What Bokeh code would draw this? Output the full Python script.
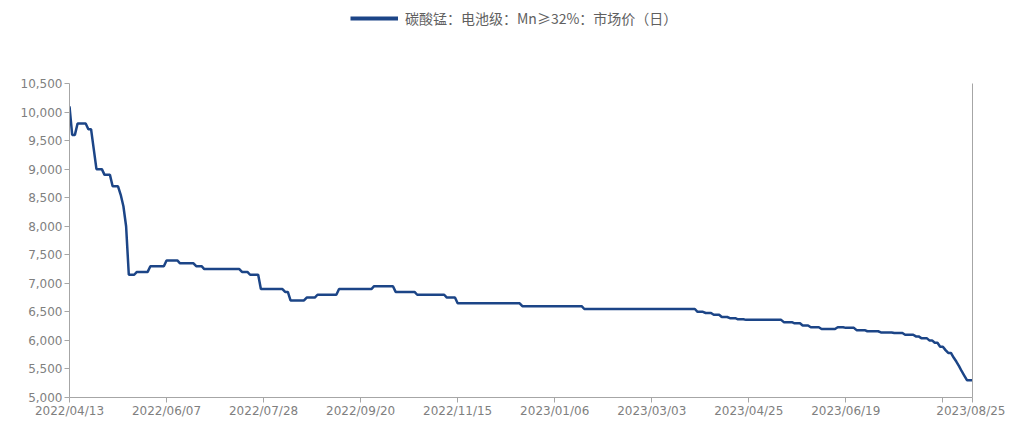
import numpy as np
from bokeh.plotting import figure
from bokeh.layouts import column
from bokeh.models import (Range1d, FixedTicker, NumeralTickFormatter, LinearAxis,
                          Legend, LegendItem, ColumnDataSource)
from bokeh.embed import file_html
from bokeh.resources import INLINE

series_name = "碳酸锰：电池级：Mn≥32%：市场价（日）"

# price level (yuan/t) and number of trading days it held
levels = [10100, 9600, 9800, 9700, 9350, 9000, 8900, 8700, 8550, 8350, 8000,
          7150, 7200, 7300, 7400, 7350, 7300, 7250, 7200, 7150,
          6900, 6850, 6700, 6750, 6800, 6900, 6950, 6850, 6800, 6750,
          6650, 6600, 6550, 6500, 6480, 6450, 6410, 6390, 6370, 6360,
          6320, 6300, 6260, 6230, 6200, 6230, 6220, 6180, 6160, 6140,
          6130, 6100, 6070, 6040, 6000, 5960, 5890, 5830, 5780, 5700,
          5630, 5550, 5460, 5380, 5300]
days = [1, 2, 4, 2, 1, 3, 3, 3, 1, 1, 1,
        3, 5, 6, 5, 6, 3, 14, 3, 4,
        9, 2, 6, 4, 8, 13, 8, 8, 11, 4,
        24, 23, 42, 3, 3, 3, 3, 3, 3, 14,
        4, 3, 3, 4, 6, 3, 4, 4, 5, 5,
        4, 4, 2, 3, 2, 2, 2, 1, 2, 1,
        1, 1, 1, 1, 3]

# trading-day index of each date tick and its label
tick_index = [0, 36, 72, 108, 144, 180, 216, 252, 288, 324, 335]
tick_labels = ["2022/04/13", "2022/06/07", "2022/07/28", "2022/09/20", "2022/11/15",
               "2023/01/06", "2023/03/03", "2023/04/25", "2023/06/19", "", "2023/08/25"]
y_ticks = [5000, 5500, 6000, 6500, 7000, 7500, 8000, 8500, 9000, 9500, 10000, 10500]

values = np.repeat(levels, days)
idx = np.arange(len(values))
src = ColumnDataSource(dict(x=idx, y=values))

LINE = "#1c4587"
AXIS = "#a6a6a6"
LABEL = "#7f7f7f"
W = 1005
H = 420
HEAD_H = 56

# header figure carrying only the legend (its renderer holds no drawable point)
head = figure(width=W, height=HEAD_H, output_backend="svg", toolbar_location=None,
              x_range=Range1d(0, 1), y_range=Range1d(0, 1),
              min_border=0, outline_line_color=None)
head.axis.visible = False
head.grid.visible = False
dummy = head.line(x=[np.nan, np.nan], y=[np.nan, np.nan], line_color=LINE, line_width=4)
legend = Legend(items=[LegendItem(label=series_name, renderers=[dummy])],
                location=(281, 28), orientation="horizontal",
                border_line_alpha=0, background_fill_alpha=0,
                glyph_width=48, glyph_height=14, label_height=14, label_standoff=7,
                label_text_font="Noto Sans CJK SC", label_text_font_size="14px",
                label_text_color="#606060", padding=0, margin=0, spacing=0)
head.add_layout(legend, "center")

p = figure(width=W, height=H - HEAD_H, output_backend="svg", toolbar_location=None,
           x_range=Range1d(0, len(values) - 1), y_range=Range1d(5000, 10500),
           min_border_left=69, min_border_right=W - 972,
           min_border_top=83 - HEAD_H, min_border_bottom=H - 398)
p.outline_line_color = None
p.xgrid.grid_line_color = None
p.ygrid.grid_line_color = None

p.line("x", "y", source=src, line_color=LINE, line_width=2.5)

for ax in (p.xaxis[0], p.yaxis[0]):
    ax.axis_line_color = AXIS
    ax.major_tick_line_color = AXIS
    ax.major_tick_out = 5
    ax.major_tick_in = 0
    ax.minor_tick_line_color = None
    ax.major_label_text_color = LABEL
    ax.major_label_text_font = "DejaVu Sans"
    ax.major_label_text_font_size = "12px"

p.xaxis[0].ticker = FixedTicker(ticks=tick_index)
p.xaxis[0].major_label_overrides = {i: l for i, l in zip(tick_index, tick_labels)}
p.xaxis[0].major_label_standoff = 1
p.yaxis[0].ticker = FixedTicker(ticks=y_ticks)
p.yaxis[0].formatter = NumeralTickFormatter(format="0,0")
p.yaxis[0].major_label_standoff = 2

right = LinearAxis(axis_line_color=AXIS, major_tick_line_color=None,
                   minor_tick_line_color=None, major_label_text_font_size="0px")
right.ticker = FixedTicker(ticks=[])
p.add_layout(right, "right")

layout = column(head, p, spacing=0)
open("out.html", "w").write(file_html(layout, INLINE))
